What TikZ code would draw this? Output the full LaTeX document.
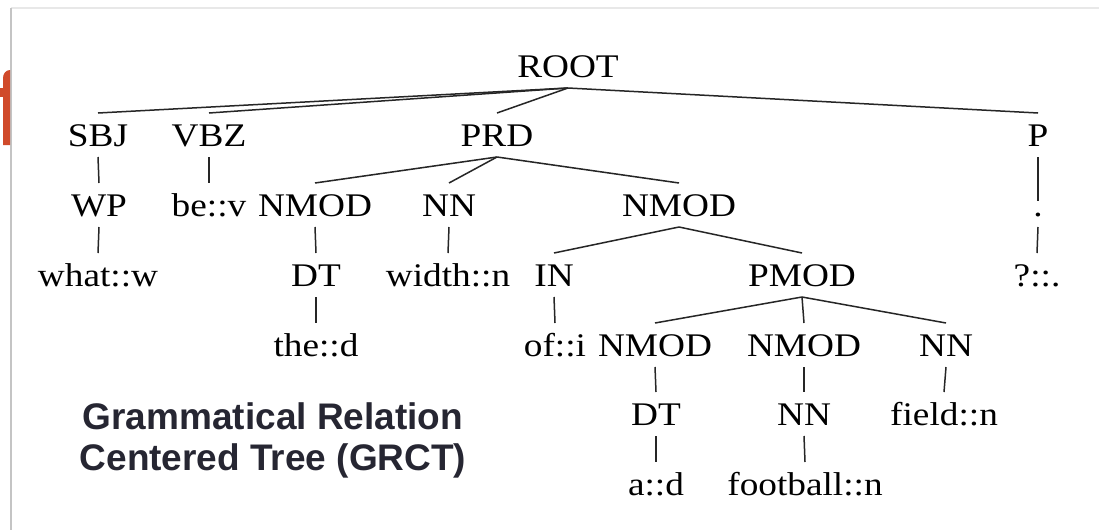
\documentclass[tikz,border=0pt]{standalone}
\usepackage{fontspec}
\setmainfont{Liberation Serif}[FakeStretch=1.13]
\newfontfamily\capfont{Liberation Sans}
\usetikzlibrary{positioning}

\definecolor{captext}{RGB}{38,38,50}
\definecolor{slideorange}{RGB}{208,74,42}
\definecolor{framegray}{RGB}{196,196,196}
\definecolor{topgray}{RGB}{232,232,232}

\begin{document}
\begin{tikzpicture}[
x=1pt, y=-1pt,
tag/.style={inner sep=0pt, outer xsep=0pt, outer ysep=11pt, text height=22pt, text depth=0pt, anchor=base, font=\fontsize{33}{38}\selectfont},
branch/.style={line width=1.5pt, draw=black!85}
]

% page and slide frame
\fill[white] (0,0) rectangle (1099,530);
\fill[topgray] (11,7) rectangle (1099,9);
\fill[framegray] (10,8) rectangle (12,530);
\fill[slideorange] (3,145) -- (3,78) to[out=90,in=180] (10,70) -- (10,145) -- cycle;
\fill[slideorange] (0,88) rectangle (3,97);

% tree
\node[tag] (root) at (568,77) {ROOT};

\node[tag] (sbj) at (98,146) {SBJ};
\node[tag] (vbz) at (209,146) {VBZ};
\node[tag] (prd) at (497,146) {PRD};
\node[tag] (p) at (1038,146) {P};

\node[tag] (wp) at (99,216) {WP};
\node[tag] (bev) at (209,216) {be::v};
\node[tag] (nmoda) at (315,216) {NMOD};
\node[tag] (nna) at (449,216) {NN};
\node[tag] (nmodb) at (679,216) {NMOD};
\node[tag, text height=4pt] (dot) at (1038,216) {.};

\node[tag] (what) at (98,286) {what::w};
\node[tag] (dta) at (316,286) {DT};
\node[tag] (width) at (448,286) {width::n};
\node[tag] (in) at (554,286) {IN};
\node[tag] (pmod) at (802,286) {PMOD};
\node[tag] (qm) at (1037,286) {?::.};

\node[tag] (the) at (316,356) {the::d};
\node[tag] (of) at (555,356) {of::i};
\node[tag] (nmodc) at (655,356) {NMOD};
\node[tag] (nmodd) at (804,356) {NMOD};
\node[tag] (nnc) at (946,356) {NN};

\node[tag] (dtb) at (656,425) {DT};
\node[tag] (nnb) at (804,425) {NN};
\node[tag] (field) at (944,425) {field::n};

\node[tag] (ad) at (656,495) {a::d};
\node[tag] (football) at (805,495) {football::n};

\draw[branch] (root.south) -- (sbj.north);
\draw[branch] (root.south) -- (vbz.north);
\draw[branch] (root.south) -- (prd.north);
\draw[branch] (root.south) -- (p.north);
\draw[branch] (sbj.south) -- (wp.north);
\draw[branch] (wp.south) -- (what.north);
\draw[branch] (vbz.south) -- (bev.north);
\draw[branch] (prd.south) -- (nmoda.north);
\draw[branch] (prd.south) -- (nna.north);
\draw[branch] (prd.south) -- (nmodb.north);
\draw[branch] (nmoda.south) -- (dta.north);
\draw[branch] (dta.south) -- (the.north);
\draw[branch] (nna.south) -- (width.north);
\draw[branch] (nmodb.south) -- (in.north);
\draw[branch] (nmodb.south) -- (pmod.north);
\draw[branch] (in.south) -- (of.north);
\draw[branch] (pmod.south) -- (nmodc.north);
\draw[branch] (pmod.south) -- (nmodd.north);
\draw[branch] (pmod.south) -- (nnc.north);
\draw[branch] (nmodc.south) -- (dtb.north);
\draw[branch] (dtb.south) -- (ad.north);
\draw[branch] (nmodd.south) -- (nnb.north);
\draw[branch] (nnb.south) -- (football.north);
\draw[branch] (nnc.south) -- (field.north);
\draw[branch] (p.south) -- (dot.north);
\draw[branch] (dot.south) -- (qm.north);

% caption
\node[align=center, text=captext, font=\capfont\bfseries\fontsize{37}{41}\selectfont] (caption) at (273,440) {Grammatical Relation\\Centered Tree (GRCT)};

\end{tikzpicture}
\end{document}
